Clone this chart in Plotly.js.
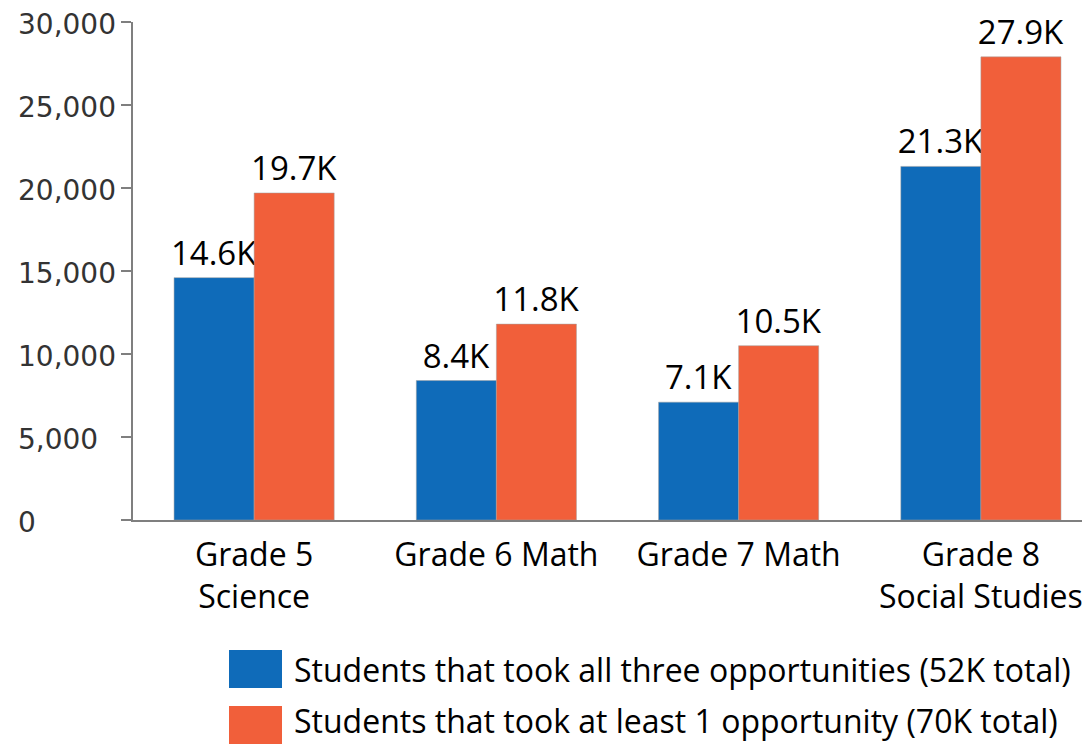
<!DOCTYPE html>
<html>
<head>
<meta charset="utf-8">
<script src="https://cdn.plot.ly/plotly-3.0.1.min.js"></script>
<style>html,body{margin:0;padding:0;background:#fff;overflow:hidden}#chart{width:1082px;height:744px}</style>
</head>
<body>
<div id="chart"></div>
<script>
var categories = ['Grade 5<br>Science', 'Grade 6 Math', 'Grade 7 Math', 'Grade 8<br>Social Studies'];
var allThree = [14600, 8400, 7100, 21300];
var atLeastOne = [19700, 11800, 10500, 27900];
var seriesNames = ['Students that took all three opportunities (52K total)', 'Students that took at least 1 opportunity (70K total)'];
var seriesColors = ['#0f6bb9', '#f15f3a'];
var yTickVals = [0, 5000, 10000, 15000, 20000, 25000, 30000];
var yTickText = ['0', '5,000', '10,000', '15,000', '20,000', '25,000', '30,000'];

var W = 1082, H = 744, ML = 133, MT = 22, MB = 224, MR = 0;
var PW = W - ML - MR, PH = H - MT - MB;
function px(x) { return (x - ML) / PW; }
function py(y) { return (H - MB - y) / PH; }

function fmtK(v) { return (v / 1000).toFixed(1) + 'K'; }
var labelFont = {family: 'Open Sans, sans-serif', size: 33, color: '#000'};
var axisFont = {family: 'Open Sans, sans-serif', size: 32, color: '#000'};

var series = [allThree, atLeastOne];
var traces = series.map(function (vals, i) {
  return {
    type: 'bar',
    name: seriesNames[i],
    x: categories,
    y: vals,
    text: vals.map(fmtK),
    textposition: 'outside',
    textfont: labelFont,
    constraintext: 'none',
    cliponaxis: false,
    marker: {color: seriesColors[i], line: {color: 'rgba(160,160,160,0.5)', width: 1}},
    hoverinfo: 'none'
  };
});

var annotations = yTickVals.map(function (v, i) {
  return {
    xref: 'paper', yref: 'y', x: px(16), y: v, xanchor: 'left', yanchor: 'middle', yshift: -2,
    text: yTickText[i], showarrow: false,
    font: {family: 'DejaVu Sans, sans-serif', size: 28, color: '#333'}
  };
});

var shapes = [];
var legendRows = [{top: 650, bottom: 688, textY: 669}, {top: 706, bottom: 744, textY: 720}];
legendRows.forEach(function (r, i) {
  shapes.push({
    type: 'rect', xref: 'paper', yref: 'paper',
    x0: px(229), x1: px(282), y0: py(r.bottom), y1: py(r.top),
    fillcolor: seriesColors[i], line: {width: 0}
  });
  annotations.push({
    xref: 'paper', yref: 'paper', x: px(292), y: py(r.textY), xanchor: 'left', yanchor: 'middle',
    text: seriesNames[i], showarrow: false, font: axisFont
  });
});

var layout = {
  width: W, height: H,
  margin: {l: ML, r: MR, t: MT, b: MB, pad: 0},
  paper_bgcolor: '#fff', plot_bgcolor: '#fff',
  barmode: 'group', bargap: 0.339, bargroupgap: 0,
  showlegend: false,
  xaxis: {
    type: 'category', range: [-0.5, 3 + (1082 - 981) / 242],
    showline: true, linecolor: '#7f7f7f', linewidth: 2,
    ticks: '', showgrid: false, zeroline: false,
    tickfont: axisFont, ticklabelstandoff: 6
  },
  yaxis: {
    range: [0, 30000], tickvals: yTickVals, showticklabels: false,
    ticks: 'outside', ticklen: 10, tickwidth: 2, tickcolor: '#7f7f7f',
    showline: true, linecolor: '#7f7f7f', linewidth: 2,
    showgrid: false, zeroline: false
  },
  annotations: annotations,
  shapes: shapes
};

Plotly.newPlot('chart', traces, layout, {displayModeBar: false, staticPlot: true});
</script>
</body>
</html>
